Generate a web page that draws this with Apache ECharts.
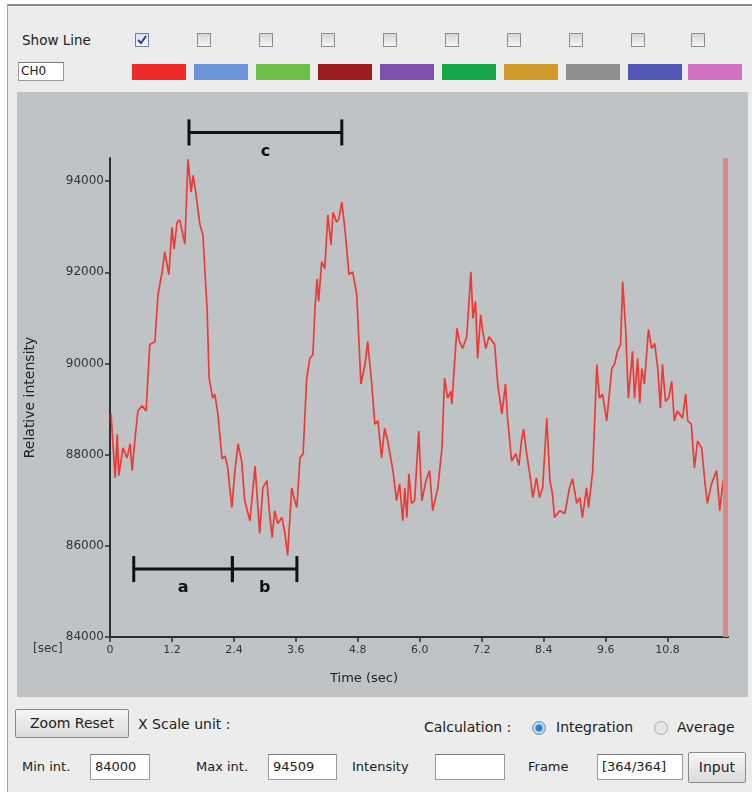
<!DOCTYPE html>
<html>
<head>
<meta charset="utf-8">
<script src="https://cdn.jsdelivr.net/npm/echarts@6/dist/echarts.min.js"></script>
<style>
  body { margin: 0; width: 752px; height: 792px; background: #fff; position: relative; overflow: hidden;
         font-family: "DejaVu Sans", sans-serif; font-size: 13px; color: #222; }
  #panel { position: absolute; left: 7px; top: 4px; width: 745px; height: 788px; background: #ececec;
           border-left: 1px solid #a4a4a4; border-top: 2px solid #8a8a8a; }
  .abs { position: absolute; white-space: nowrap; }
  .cb { position: absolute; width: 12px; height: 12px; border: 1px solid #8e8e8e;
        background: linear-gradient(#d6d6d6, #f6f6f6); }
  .sw { position: absolute; top: 64px; height: 16px; width: 54px; }
  .box { position: absolute; background: #fff; border: 1px solid #9a9a9a; border-top-color: #7a7a7a;
         font-size: 13px; padding-left: 4px; line-height: 24px; height: 24px; }
  .btn { position: absolute; border: 1px solid #8a8a8a; border-radius: 2px;
         background: linear-gradient(#f6f6f6, #dadada); text-align: center; font-size: 14px; }
  .radio { position: absolute; width: 12px; height: 12px; border-radius: 50%; border: 1px solid #a8a8a8;
           background: #e6e6e6; }
  #chart { position: absolute; left: 17px; top: 92px; width: 731px; height: 605px; background: #c0c3c6; }
</style>
</head>
<body>
<div id="panel"></div>

<div class="abs" style="left:22px;top:32px;font-size:13.5px;">Show Line</div>
<div class="box" style="left:18px;top:62px;width:42px;height:17px;line-height:17px;font-size:12px;padding-left:2px;">CH0</div>
<div id="checks"></div>
<div id="swatches"></div>

<div id="chart"></div>

<div class="btn" style="left:15px;top:709px;width:112px;height:27px;line-height:27px;">Zoom Reset</div>
<div class="abs" style="left:138px;top:716px;font-size:14px;">X Scale unit :</div>
<div class="abs" style="left:424px;top:719px;font-size:14px;">Calculation :</div>
<div class="radio" style="left:532px;top:721px;background:radial-gradient(circle,#2f7fc4 0 3px,#bcd6ee 4px);border-color:#6d8fb0;"></div>
<div class="abs" style="left:556px;top:719px;font-size:14px;">Integration</div>
<div class="radio" style="left:654px;top:721px;"></div>
<div class="abs" style="left:677px;top:719px;font-size:14px;">Average</div>

<div class="abs" style="left:22px;top:759px;">Min int.</div>
<div class="box" style="left:90px;top:754px;width:54px;">84000</div>
<div class="abs" style="left:196px;top:759px;">Max int.</div>
<div class="box" style="left:268px;top:754px;width:63px;">94509</div>
<div class="abs" style="left:352px;top:759px;">Intensity</div>
<div class="box" style="left:435px;top:754px;width:64px;"></div>
<div class="abs" style="left:528px;top:759px;">Frame</div>
<div class="box" style="left:597px;top:754px;width:80px;overflow:hidden;">[364/364]</div>
<div class="btn" style="left:688px;top:752px;width:56px;height:29px;line-height:29px;">Input</div>

<script>
// channel colours for the "Show Line" row
const channelColors = ['#ee2b2b', '#6b95d6', '#6cc047', '#9a1c1c', '#7e50ae', '#17a748',
  '#d0992b', '#8e8e8e', '#5157b4', '#cf72c2'];
const channelLeft = [132, 194, 256, 318, 380, 442, 504, 566, 628, 688];

// time (sec) and relative intensity
const times = [0.02, 0.10, 0.14, 0.17, 0.25, 0.33, 0.39, 0.43, 0.48, 0.54, 0.62, 0.70, 0.77, 0.87, 0.93,
  1.01, 1.06, 1.14, 1.20, 1.24, 1.30, 1.35, 1.45, 1.51, 1.57, 1.61, 1.66, 1.74, 1.80, 1.88, 1.92, 1.99,
  2.03, 2.09, 2.17, 2.23, 2.28, 2.36, 2.42, 2.48, 2.55, 2.61, 2.71, 2.81, 2.90, 2.96, 3.04, 3.08, 3.14,
  3.19, 3.25, 3.33, 3.39, 3.44, 3.52, 3.58, 3.62, 3.68, 3.74, 3.81, 3.87, 3.93, 3.97, 4.01, 4.04, 4.10,
  4.16, 4.22, 4.28, 4.32, 4.39, 4.43, 4.49, 4.55, 4.63, 4.70, 4.78, 4.86, 4.94, 4.99, 5.07, 5.13, 5.19,
  5.26, 5.32, 5.38, 5.48, 5.55, 5.61, 5.67, 5.71, 5.75, 5.79, 5.84, 5.90, 5.98, 6.04, 6.12, 6.19, 6.25,
  6.35, 6.43, 6.48, 6.54, 6.60, 6.62, 6.72, 6.77, 6.83, 6.91, 6.99, 7.03, 7.08, 7.12, 7.18, 7.22, 7.28,
  7.34, 7.45, 7.51, 7.59, 7.66, 7.70, 7.78, 7.86, 7.92, 7.97, 8.01, 8.07, 8.13, 8.19, 8.26, 8.32, 8.38,
  8.46, 8.52, 8.57, 8.61, 8.71, 8.81, 8.90, 8.96, 9.04, 9.10, 9.15, 9.23, 9.27, 9.35, 9.43, 9.48, 9.54,
  9.62, 9.72, 9.77, 9.83, 9.89, 9.93, 9.99, 10.04, 10.12, 10.16, 10.22, 10.26, 10.30, 10.35, 10.43,
  10.49, 10.55, 10.61, 10.66, 10.70, 10.76, 10.82, 10.88, 10.93, 10.99, 11.09, 11.15, 11.19, 11.26,
  11.32, 11.38, 11.46, 11.52, 11.57, 11.65, 11.75, 11.81, 11.86, 11.92];
const intensity = [88890, 87490, 88450, 87540, 88150, 87930, 88240, 87650, 88300, 88960, 89070, 88960,
  90420, 90480, 91510, 92010, 92450, 91950, 92990, 92510, 93100, 93150, 92620, 94480, 93760, 94130,
  93760, 93060, 92820, 91200, 89680, 89240, 89330, 88890, 87910, 87970, 87710, 86840, 87650, 88240,
  87860, 86990, 86550, 87750, 86270, 87270, 87430, 86840, 86180, 86770, 86490, 86620, 86270, 85790,
  87270, 86990, 86840, 87930, 88020, 89680, 90110, 90200, 91200, 91860, 91360, 92230, 92080, 93260,
  92600, 93320, 93100, 93170, 93540, 92950, 91950, 92010, 91510, 89550, 89980, 90480, 89550, 88670,
  88740, 87930, 88580, 88300, 87650, 86990, 87360, 86550, 87270, 86620, 87580, 86930, 86990, 88520,
  86990, 87430, 87650, 86770, 87270, 88150, 89680, 89240, 89390, 89110, 90770, 90480, 90330, 90590,
  92010, 90990, 91360, 90110, 91070, 90700, 90330, 90590, 90420, 89550, 88890, 89550, 88800, 87860,
  88020, 87760, 88300, 88560, 88020, 87580, 87060, 87490, 87060, 87270, 88800, 87430, 87140, 86620,
  86770, 86710, 87270, 87470, 86930, 87060, 86620, 87270, 86840, 87650, 89980, 89240, 89330, 88740,
  89890, 89980, 90270, 90420, 91800, 90700, 89240, 90270, 89240, 90110, 89130, 89890, 89550, 90750,
  90330, 90440, 89890, 89020, 89980, 89170, 89240, 89610, 88740, 88960, 88800, 89330, 88740, 88670,
  87710, 88300, 88150, 87430, 86930, 87360, 87650, 86770, 87270, 87710];

const xTicks = [0, 1.2, 2.4, 3.6, 4.8, 6.0, 7.2, 8.4, 9.6, 10.8];
const yTicks = [84000, 86000, 88000, 90000, 92000, 94000];
const minInt = 84000;
const maxInt = 94509;
const timeMax = 11.97;
const cursorTime = 11.92;

// interval brackets drawn on the plot
const bracketNames = ['a', 'b', 'c'];
const bracketStart = [0.46, 2.37, 1.53];
const bracketEnd = [2.37, 3.62, 4.49];
const bracketLevel = [85490, 85490, 95070];

// build the top row of checkboxes and swatches
var checks = document.getElementById('checks');
var swatches = document.getElementById('swatches');
channelColors.forEach(function (c, i) {
  var cb = document.createElement('div');
  cb.className = 'cb';
  cb.style.left = (channelLeft[i] + 3) + 'px';
  cb.style.top = '33px';
  if (i === 0) {
    cb.style.background = 'linear-gradient(#d9e2f2, #f4f7fc)';
    cb.style.borderColor = '#6d7fa3';
    cb.innerHTML = '<svg width="12" height="12"><polyline points="2,6 5,9 10,2" fill="none" stroke="#2b3f8c" stroke-width="2"/></svg>';
  }
  checks.appendChild(cb);
  var sw = document.createElement('div');
  sw.className = 'sw';
  sw.style.left = channelLeft[i] + 'px';
  sw.style.background = c;
  swatches.appendChild(sw);
});

var dom = document.getElementById('chart');
var myChart = echarts.init(dom, null, { renderer: 'canvas' });

var lineData = times.map(function (t, i) { return [t, intensity[i]]; });
var bracketData = bracketNames.map(function (n, i) {
  return [bracketStart[i], bracketEnd[i], bracketLevel[i]];
});

var option = {
  animation: false,
  backgroundColor: '#c0c3c6',
  textStyle: { fontFamily: 'DejaVu Sans' },
  grid: { left: 93, top: 66, right: 20, bottom: 60, outerBoundsMode: 'none', containLabel: false },
  xAxis: {
    type: 'value',
    min: 0,
    max: timeMax,
    splitLine: { show: false },
    axisLine: { lineStyle: { color: '#2e2e2e', width: 2 } },
    axisTick: { show: true, length: 5, customValues: xTicks, lineStyle: { color: '#2e2e2e', width: 1.5 } },
    axisLabel: {
      customValues: xTicks, color: '#333', fontSize: 11, margin: 8,
      formatter: function (v) { return v === 0 ? '0' : v.toFixed(1); }
    }
  },
  yAxis: {
    type: 'value',
    min: minInt,
    max: maxInt,
    name: 'Relative intensity',
    nameLocation: 'middle',
    nameGap: 73,
    nameTextStyle: { color: '#222', fontSize: 14 },
    splitLine: { show: false },
    axisLine: { show: true, lineStyle: { color: '#2e2e2e', width: 2 } },
    axisTick: { show: true, length: 5, customValues: yTicks, lineStyle: { color: '#2e2e2e', width: 1.5 } },
    axisLabel: {
      customValues: yTicks, color: '#333', fontSize: 12, margin: 6,
      formatter: function (v) { return String(v); }
    }
  },
  graphic: [
    { type: 'text', left: 16, top: 551, style: { text: '[sec]', fill: '#333', font: '12px DejaVu Sans' } },
    { type: 'text', left: 313, top: 580, style: { text: 'Time (sec)', fill: '#222', font: '13px DejaVu Sans' } }
  ],
  series: [
    {
      type: 'line',
      data: lineData,
      showSymbol: false,
      lineStyle: { color: '#ee3a35', width: 1.7 },
      z: 3,
      markLine: {
        silent: true,
        symbol: 'none',
        label: { show: false },
        lineStyle: { color: '#d98789', width: 5, type: 'solid' },
        data: [{ xAxis: cursorTime }]
      }
    },
    {
      type: 'custom',
      clip: false,
      data: bracketData,
      encode: { x: [0, 1], y: 2 },
      z: 4,
      renderItem: function (params, api) {
        var p1 = api.coord([api.value(0), api.value(2)]);
        var p2 = api.coord([api.value(1), api.value(2)]);
        var cap = 13;
        var st = { stroke: '#111', lineWidth: 3 };
        return {
          type: 'group',
          children: [
            { type: 'line', shape: { x1: p1[0], y1: p1[1], x2: p2[0], y2: p2[1] }, style: st },
            { type: 'line', shape: { x1: p1[0], y1: p1[1] - cap, x2: p1[0], y2: p1[1] + cap }, style: st },
            { type: 'line', shape: { x1: p2[0], y1: p2[1] - cap, x2: p2[0], y2: p2[1] + cap }, style: st },
            {
              type: 'text',
              x: (p1[0] + p2[0]) / 2,
              y: p1[1] + 19,
              style: {
                text: bracketNames[params.dataIndex], fill: '#111',
                font: 'bold 16px DejaVu Sans', align: 'center', verticalAlign: 'middle'
              }
            }
          ]
        };
      }
    }
  ]
};

if (option && typeof option === 'object') {
  myChart.setOption(option);
}
</script>
</body>
</html>
